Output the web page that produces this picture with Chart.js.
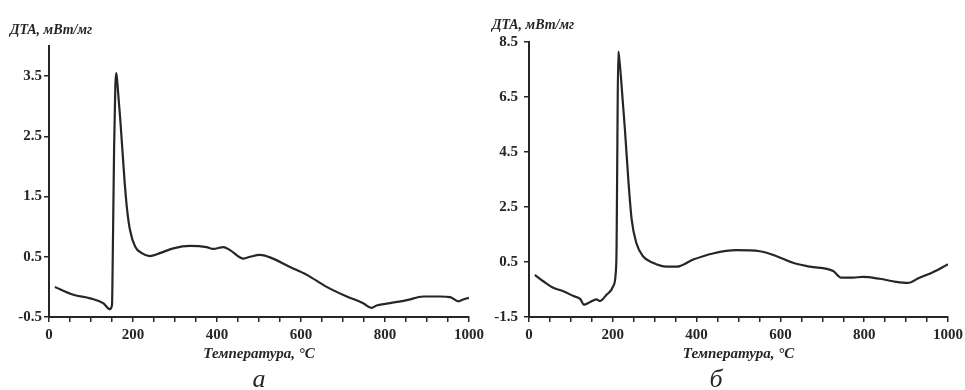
<!DOCTYPE html>
<html>
<head>
<meta charset="utf-8">
<script src="https://cdn.jsdelivr.net/npm/chart.js@4.4.1/dist/chart.umd.min.js"></script>
<style>
  body { margin: 0; background: #fff; }
  #wrap { position: relative; width: 965px; height: 390px; overflow: hidden; }
  canvas { position: absolute; top: 0; }
</style>
</head>
<body>
<div id="wrap">
  <canvas id="chartA" width="500" height="390" style="left:0"></canvas>
  <canvas id="chartB" width="485" height="390" style="left:480px"></canvas>
</div>
<script>
// panel a
const tempA = [14, 58, 98, 129, 145, 150, 152, 155, 158, 160, 162, 166, 170, 175, 180, 186, 193, 205, 221, 240, 264, 296, 336, 375, 391, 415, 431, 463, 479, 502, 526, 574, 614, 661, 709, 748, 768, 780, 812, 852, 891, 931, 955, 975, 986, 1000];
const dtaA = [0.0, -0.13, -0.19, -0.27, -0.37, -0.3, 0.6, 2.3, 3.35, 3.55, 3.45, 3.1, 2.75, 2.25, 1.75, 1.28, 0.94, 0.67, 0.56, 0.51, 0.56, 0.64, 0.68, 0.66, 0.63, 0.66, 0.61, 0.47, 0.5, 0.53, 0.49, 0.33, 0.2, 0.0, -0.16, -0.27, -0.35, -0.31, -0.27, -0.22, -0.16, -0.16, -0.17, -0.24, -0.21, -0.18];
const yTicksA = [-0.5, 0.5, 1.5, 2.5, 3.5];

// panel b
const tempB = [14, 34, 58, 82, 106, 122, 131, 145, 161, 169, 185, 201, 207, 209, 211, 213, 215, 219, 224, 229, 237, 245, 256, 272, 296, 328, 352, 392, 439, 495, 551, 591, 630, 670, 726, 745, 773, 797, 837, 876, 904, 932, 964, 1000];
const dtaB = [0.03, -0.2, -0.44, -0.56, -0.74, -0.84, -1.05, -0.96, -0.86, -0.92, -0.69, -0.38, 0.1, 1.0, 5.0, 8.15, 7.95, 7.3, 6.3, 5.3, 3.5, 2.05, 1.2, 0.71, 0.47, 0.33, 0.33, 0.59, 0.81, 0.93, 0.89, 0.71, 0.47, 0.33, 0.17, -0.07, -0.07, -0.04, -0.11, -0.22, -0.26, -0.07, 0.13, 0.42];
const yTicksB = [-1.5, 0.5, 2.5, 4.5, 6.5, 8.5];

const xMajor = [0, 200, 400, 600, 800, 1000];
const yTitle = "ДТА, мВт/мг";
const xTitle = "Температура, °С";

const ink = "#262626";
const tickFont = { family: "Liberation Serif", size: 15, weight: "bold" };

function makeChart(id, temps, vals, yTicks, yMin, yMax, opts) {
  const points = temps.map((t, i) => ({ x: t, y: vals[i] }));

  // labels that are not axis ticks: y title and panel letter
  const extraText = {
    id: "extraText",
    afterDraw(chart) {
      const c = chart.ctx;
      c.save();
      c.fillStyle = ink;
      c.textBaseline = "alphabetic";
      c.font = "italic bold 14px 'Liberation Serif'";
      c.textAlign = "left";
      c.fillText(yTitle, opts.titleX, opts.titleY);
      c.font = "italic 26px 'Liberation Serif'";
      c.textAlign = "center";
      c.fillText(opts.letter, opts.letterX, 387);
      c.restore();
    }
  };

  return new Chart(document.getElementById(id), {
    type: "line",
    data: {
      datasets: [{
        data: points,
        borderColor: ink,
        borderWidth: 2.2,
        pointRadius: 0,
        cubicInterpolationMode: "monotone",
        fill: false
      }]
    },
    options: {
      responsive: false,
      animation: false,
      layout: { padding: { left: 0, right: opts.padRight, top: opts.padTop, bottom: 23 } },
      plugins: { legend: { display: false }, tooltip: { enabled: false } },
      scales: {
        x: {
          type: "linear",
          min: 0,
          max: 1000,
          border: { color: ink, width: 2 },
          grid: { drawOnChartArea: false, drawTicks: true, tickLength: 5, color: ink, lineWidth: 1.5 },
          ticks: {
            stepSize: 50,
            autoSkip: false,
            maxRotation: 0,
            padding: 4,
            color: ink,
            font: tickFont,
            callback: (v) => (xMajor.includes(v) ? String(v) : "")
          },
          title: {
            display: true,
            text: xTitle,
            color: ink,
            font: { family: "Liberation Serif", size: 15, weight: "bold", style: "italic" },
            padding: { top: 0, bottom: 4 }
          },
          afterFit(scale) {
            scale.height = 50;
            scale.paddingLeft = 0;
            scale.paddingRight = 0;
          }
        },
        y: {
          min: yMin,
          max: yMax,
          border: { color: ink, width: 2 },
          grid: { drawOnChartArea: false, drawTicks: true, tickLength: 5, color: ink, lineWidth: 1.5 },
          ticks: {
            padding: opts.yPad,
            color: ink,
            font: tickFont,
            callback: (v) => v.toFixed(1)
          },
          afterBuildTicks(scale) {
            scale.ticks = yTicks.map((v) => ({ value: v }));
          },
          afterFit(scale) {
            scale.width = 49;
            scale.paddingTop = 0;
            scale.paddingBottom = 0;
          }
        }
      }
    },
    plugins: [extraText]
  });
}

makeChart("chartA", tempA, dtaA, yTicksA, -0.5, 4.0,
  { padRight: 31, padTop: 46, yPad: 2, titleX: 10, titleY: 34, letter: "а", letterX: 259 });
makeChart("chartB", tempB, dtaB, yTicksB, -1.5, 8.5,
  { padRight: 17, padTop: 42, yPad: 6, titleX: 12, titleY: 29, letter: "б", letterX: 236 });
</script>
</body>
</html>
